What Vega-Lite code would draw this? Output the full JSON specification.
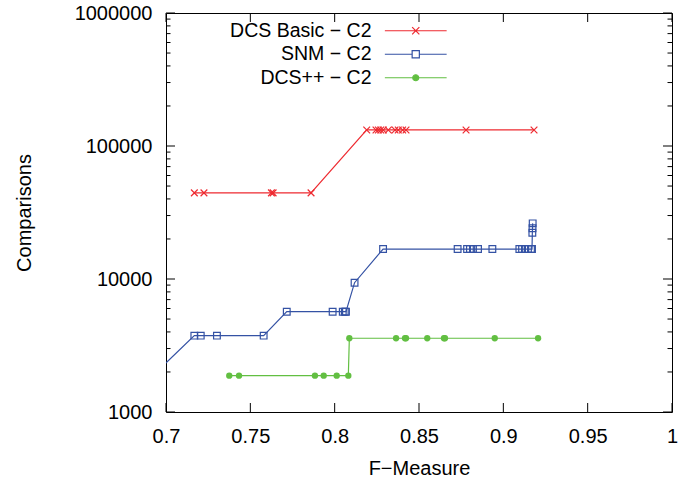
{
  "$schema": "https://vega.github.io/schema/vega-lite/v6.json",
  "width": 506,
  "height": 399,
  "autosize": {"type": "none"},
  "padding": {"left": 166, "top": 13, "right": 6, "bottom": 72},
  "config": {
    "font": "Liberation Sans",
    "view": {"stroke": "black", "strokeWidth": 1},
    "axis": {
      "grid": false,
      "domain": false,
      "ticks": false,
      "labelColor": "black",
      "titleColor": "black",
      "labelFont": "Liberation Sans",
      "titleFont": "Liberation Sans",
      "labelFontSize": 20,
      "titleFontSize": 20,
      "titleFontWeight": "normal"
    }
  },
  "datasets": {
    "pts": [
      {"series": "DCS Basic − C2", "f": 0.7168, "c": 44400},
      {"series": "DCS Basic − C2", "f": 0.7225, "c": 44400},
      {"series": "DCS Basic − C2", "f": 0.7625, "c": 44400},
      {"series": "DCS Basic − C2", "f": 0.7635, "c": 44400},
      {"series": "DCS Basic − C2", "f": 0.7860, "c": 44400},
      {"series": "DCS Basic − C2", "f": 0.8190, "c": 132000},
      {"series": "DCS Basic − C2", "f": 0.8245, "c": 132000},
      {"series": "DCS Basic − C2", "f": 0.8259, "c": 132000},
      {"series": "DCS Basic − C2", "f": 0.8273, "c": 132000},
      {"series": "DCS Basic − C2", "f": 0.8288, "c": 132000},
      {"series": "DCS Basic − C2", "f": 0.8318, "c": 132000},
      {"series": "DCS Basic − C2", "f": 0.8358, "c": 132000},
      {"series": "DCS Basic − C2", "f": 0.8377, "c": 132000},
      {"series": "DCS Basic − C2", "f": 0.8403, "c": 132000},
      {"series": "DCS Basic − C2", "f": 0.8423, "c": 132000},
      {"series": "DCS Basic − C2", "f": 0.8779, "c": 132000},
      {"series": "DCS Basic − C2", "f": 0.9182, "c": 132000},
      {"series": "SNM − C2", "f": 0.6916, "c": 1850},
      {"series": "SNM − C2", "f": 0.7168, "c": 3750},
      {"series": "SNM − C2", "f": 0.7206, "c": 3750},
      {"series": "SNM − C2", "f": 0.7302, "c": 3750},
      {"series": "SNM − C2", "f": 0.7579, "c": 3750},
      {"series": "SNM − C2", "f": 0.7716, "c": 5680},
      {"series": "SNM − C2", "f": 0.7988, "c": 5680},
      {"series": "SNM − C2", "f": 0.8048, "c": 5680},
      {"series": "SNM − C2", "f": 0.8060, "c": 5680},
      {"series": "SNM − C2", "f": 0.8067, "c": 5680},
      {"series": "SNM − C2", "f": 0.8118, "c": 9380},
      {"series": "SNM − C2", "f": 0.8287, "c": 16800},
      {"series": "SNM − C2", "f": 0.8729, "c": 16800},
      {"series": "SNM − C2", "f": 0.8785, "c": 16800},
      {"series": "SNM − C2", "f": 0.8802, "c": 16800},
      {"series": "SNM − C2", "f": 0.8820, "c": 16800},
      {"series": "SNM − C2", "f": 0.8850, "c": 16800},
      {"series": "SNM − C2", "f": 0.8935, "c": 16800},
      {"series": "SNM − C2", "f": 0.9095, "c": 16800},
      {"series": "SNM − C2", "f": 0.9111, "c": 16800},
      {"series": "SNM − C2", "f": 0.9128, "c": 16800},
      {"series": "SNM − C2", "f": 0.9146, "c": 16800},
      {"series": "SNM − C2", "f": 0.9164, "c": 16800},
      {"series": "SNM − C2", "f": 0.9170, "c": 16800},
      {"series": "SNM − C2", "f": 0.9172, "c": 22300},
      {"series": "SNM − C2", "f": 0.9173, "c": 24100},
      {"series": "SNM − C2", "f": 0.9174, "c": 26200},
      {"series": "DCS++ − C2", "f": 0.7375, "c": 1875},
      {"series": "DCS++ − C2", "f": 0.7433, "c": 1875},
      {"series": "DCS++ − C2", "f": 0.7883, "c": 1875},
      {"series": "DCS++ − C2", "f": 0.7935, "c": 1875},
      {"series": "DCS++ − C2", "f": 0.8012, "c": 1875},
      {"series": "DCS++ − C2", "f": 0.8081, "c": 1875},
      {"series": "DCS++ − C2", "f": 0.8087, "c": 3585},
      {"series": "DCS++ − C2", "f": 0.8364, "c": 3585},
      {"series": "DCS++ − C2", "f": 0.8417, "c": 3585},
      {"series": "DCS++ − C2", "f": 0.8423, "c": 3585},
      {"series": "DCS++ − C2", "f": 0.8549, "c": 3585},
      {"series": "DCS++ − C2", "f": 0.8648, "c": 3585},
      {"series": "DCS++ − C2", "f": 0.8654, "c": 3585},
      {"series": "DCS++ − C2", "f": 0.8949, "c": 3585},
      {"series": "DCS++ − C2", "f": 0.9206, "c": 3585}
    ],
    "ticks": [
      {"axis": "x", "v": 0.7}, {"axis": "x", "v": 0.75}, {"axis": "x", "v": 0.8}, {"axis": "x", "v": 0.85},
      {"axis": "x", "v": 0.9}, {"axis": "x", "v": 0.95}, {"axis": "x", "v": 1},
      {"axis": "y", "v": 1000}, {"axis": "y", "v": 10000}, {"axis": "y", "v": 100000}, {"axis": "y", "v": 1000000},
      {"axis": "ym", "v": 2000}, {"axis": "ym", "v": 3000}, {"axis": "ym", "v": 4000}, {"axis": "ym", "v": 5000},
      {"axis": "ym", "v": 6000}, {"axis": "ym", "v": 7000}, {"axis": "ym", "v": 8000}, {"axis": "ym", "v": 9000},
      {"axis": "ym", "v": 20000}, {"axis": "ym", "v": 30000}, {"axis": "ym", "v": 40000}, {"axis": "ym", "v": 50000},
      {"axis": "ym", "v": 60000}, {"axis": "ym", "v": 70000}, {"axis": "ym", "v": 80000}, {"axis": "ym", "v": 90000},
      {"axis": "ym", "v": 200000}, {"axis": "ym", "v": 300000}, {"axis": "ym", "v": 400000}, {"axis": "ym", "v": 500000},
      {"axis": "ym", "v": 600000}, {"axis": "ym", "v": 700000}, {"axis": "ym", "v": 800000}, {"axis": "ym", "v": 900000}
    ]
  },
  "data": {"name": "pts"},
  "layer": [
    {
      "mark": {"type": "line", "clip": true, "strokeWidth": 1.2},
      "encoding": {
        "x": {
          "field": "f", "type": "quantitative",
          "scale": {"domain": [0.7, 1], "nice": false, "zero": false},
          "axis": {
            "orient": "bottom",
            "title": "F−Measure",
            "values": [0.7, 0.75, 0.8, 0.85, 0.9, 0.95, 1],
            "format": "~g",
            "labelFlush": false,
            "labelOverlap": false,
            "labelPadding": 14,
            "titlePadding": 12
          }
        },
        "y": {
          "field": "c", "type": "quantitative",
          "scale": {"type": "log", "domain": [1000, 1000000], "nice": false},
          "axis": {
            "orient": "left",
            "title": "Comparisons",
            "values": [1000, 10000, 100000, 1000000],
            "format": "d",
            "labelOverlap": false,
            "labelFlush": false,
            "labelPadding": 14,
            "titlePadding": 40
          }
        },
        "stroke": {
          "field": "series",
          "type": "nominal",
          "scale": {
            "domain": ["DCS Basic − C2", "SNM − C2", "DCS++ − C2"],
            "range": ["#ee2a30", "#3452a4", "#62bf42"]
          },
          "legend": {
            "orient": "none",
            "legendX": 240,
            "legendY": 8,
            "title": null,
            "labelAlign": "right",
            "labelOffset": -54,
            "labelFontSize": 19.5,
            "labelFont": "Liberation Sans",
            "labelColor": "black",
            "symbolSize": 36,
            "symbolStrokeWidth": 1.2,
            "rowPadding": 2.5,
            "padding": 0,
            "encode": {
              "symbols": {
                "update": {
                  "shape": {"signal": "datum.value === 'DCS Basic − C2' ? 'M-10.3,0H10.3M-1.2,-1.2L1.2,1.2M-1.2,1.2L1.2,-1.2' : datum.value === 'SNM − C2' ? 'M-10.3,0H-1.2M1.2,0H10.3M-1.2,-1.2H1.2V1.2H-1.2Z' : 'M-10.3,0H10.3M1,0A1,1,0,1,1,-1,0A1,1,0,1,1,1,0Z'"},
                  "fill": {"signal": "datum.value === 'DCS++ − C2' ? '#62bf42' : 'transparent'"},
                  "fillOpacity": {"value": 1},
                  "opacity": {"value": 1}
                }
              }
            }
          }
        }
      }
    },
    {
      "transform": [{"filter": "datum.series === 'DCS Basic − C2'"}],
      "mark": {"type": "point", "clip": true, "strokeWidth": 1.2, "opacity": 1, "filled": false, "shape": "M-1,-1L1,1M-1,1L1,-1", "color": "#ee2a30", "size": 45},
      "encoding": {
        "x": {"field": "f", "type": "quantitative"},
        "y": {"field": "c", "type": "quantitative"}
      }
    },
    {
      "transform": [{"filter": "datum.series === 'SNM − C2'"}],
      "mark": {"type": "point", "clip": true, "strokeWidth": 1.2, "opacity": 1, "filled": false, "shape": "square", "color": "#3452a4", "size": 45},
      "encoding": {
        "x": {"field": "f", "type": "quantitative"},
        "y": {"field": "c", "type": "quantitative"}
      }
    },
    {
      "transform": [{"filter": "datum.series === 'DCS++ − C2'"}],
      "mark": {"type": "point", "clip": true, "opacity": 1, "filled": true, "shape": "circle", "color": "#62bf42", "size": 40},
      "encoding": {
        "x": {"field": "f", "type": "quantitative"},
        "y": {"field": "c", "type": "quantitative"}
      }
    },
    {
      "data": {"name": "ticks"},
      "transform": [{"filter": "datum.axis === 'x'"}],
      "mark": {"type": "tick", "orient": "vertical", "size": 9, "thickness": 1, "yOffset": -4.5, "color": "black", "opacity": 1},
      "encoding": {
        "x": {"field": "v", "type": "quantitative"},
        "y": {"value": "height"}
      }
    },
    {
      "data": {"name": "ticks"},
      "transform": [{"filter": "datum.axis === 'x'"}],
      "mark": {"type": "tick", "orient": "vertical", "size": 9, "thickness": 1, "yOffset": 4.5, "color": "black", "opacity": 1},
      "encoding": {
        "x": {"field": "v", "type": "quantitative"},
        "y": {"value": 0}
      }
    },
    {
      "data": {"name": "ticks"},
      "transform": [{"filter": "datum.axis === 'y'"}],
      "mark": {"type": "tick", "orient": "horizontal", "size": 9, "thickness": 1, "xOffset": 4.5, "color": "black", "opacity": 1},
      "encoding": {
        "x": {"value": 0},
        "y": {"field": "v", "type": "quantitative"}
      }
    },
    {
      "data": {"name": "ticks"},
      "transform": [{"filter": "datum.axis === 'y'"}],
      "mark": {"type": "tick", "orient": "horizontal", "size": 9, "thickness": 1, "xOffset": -4.5, "color": "black", "opacity": 1},
      "encoding": {
        "x": {"value": "width"},
        "y": {"field": "v", "type": "quantitative"}
      }
    },
    {
      "data": {"name": "ticks"},
      "transform": [{"filter": "datum.axis === 'ym'"}],
      "mark": {"type": "tick", "orient": "horizontal", "size": 4.5, "thickness": 1, "xOffset": 2.25, "color": "black", "opacity": 1},
      "encoding": {
        "x": {"value": 0},
        "y": {"field": "v", "type": "quantitative"}
      }
    },
    {
      "data": {"name": "ticks"},
      "transform": [{"filter": "datum.axis === 'ym'"}],
      "mark": {"type": "tick", "orient": "horizontal", "size": 4.5, "thickness": 1, "xOffset": -2.25, "color": "black", "opacity": 1},
      "encoding": {
        "x": {"value": "width"},
        "y": {"field": "v", "type": "quantitative"}
      }
    }
  ]
}
